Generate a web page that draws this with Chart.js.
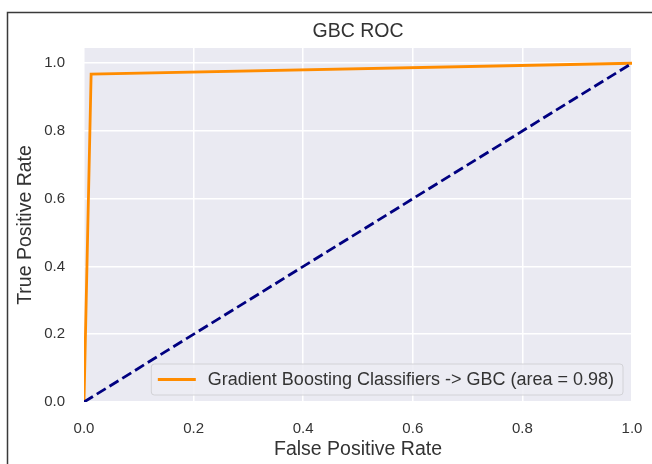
<!DOCTYPE html>
<html>
<head>
<meta charset="utf-8">
<script src="https://cdn.jsdelivr.net/npm/chart.js@4"></script>
<style>
  html, body { margin: 0; padding: 0; background: #ffffff; }
  #wrap { width: 652px; height: 464px; }
</style>
</head>
<body>
<div id="wrap"><canvas id="c" width="652" height="464"></canvas></div>
<script>
// ---- data ----
const chartTitle = "GBC ROC";
const xTitle = "False Positive Rate";
const yTitle = "True Positive Rate";
const rocLabel = "Gradient Boosting Classifiers -> GBC (area = 0.98)";
const fpr = [0.0, 0.013, 1.0];
const tpr = [0.0, 0.968, 1.0];
const diagX = [0.0, 1.0];
const diagY = [0.0, 1.0];
const tickValues = [0.0, 0.2, 0.4, 0.6, 0.8, 1.0];

const FONT = "'Liberation Sans', Arial, sans-serif";
const TXT = '#333333';

const bgPlugin = {
  id: 'bgPlugin',
  beforeDraw(chart) {
    const { ctx, chartArea: a } = chart;
    ctx.save();
    ctx.fillStyle = '#ffffff';
    ctx.fillRect(0, 0, chart.width, chart.height);
    ctx.fillStyle = '#EAEAF2';
    ctx.fillRect(a.left, a.top, a.right - a.left, a.bottom - a.top);
    // outer frame
    ctx.strokeStyle = '#3a3a3a';
    ctx.lineWidth = 1.5;
    ctx.beginPath();
    ctx.moveTo(7.5, chart.height + 2);
    ctx.lineTo(7.5, 12.5);
    ctx.lineTo(chart.width + 2, 12.5);
    ctx.stroke();
    ctx.restore();
  },
  afterDraw(chart) {
    const { ctx, chartArea: a } = chart;
    ctx.save();
    ctx.font = '19.5px ' + FONT;
    ctx.fillStyle = TXT;
    ctx.textAlign = 'center';
    ctx.textBaseline = 'middle';
    ctx.fillText(chartTitle, (a.left + a.right) / 2, 31.5);
    ctx.restore();
  }
};

const legendPlugin = {
  id: 'innerLegend',
  afterDatasetsDraw(chart) {
    const { ctx, chartArea: a } = chart;
    const ds = chart.data.datasets[0];
    ctx.save();
    ctx.font = '18px ' + FONT;
    const tw = ctx.measureText(ds.label).width;
    const padL = 6.5, lineLen = 38, gap = 12, padR = 9;
    const w = padL + lineLen + gap + tw + padR;
    const h = 31;
    const x = a.right - 9 - w;
    const y = a.bottom - 7 - h;
    const r = 3;
    ctx.beginPath();
    ctx.moveTo(x + r, y);
    ctx.lineTo(x + w - r, y);
    ctx.arcTo(x + w, y, x + w, y + r, r);
    ctx.lineTo(x + w, y + h - r);
    ctx.arcTo(x + w, y + h, x + w - r, y + h, r);
    ctx.lineTo(x + r, y + h);
    ctx.arcTo(x, y + h, x, y + h - r, r);
    ctx.lineTo(x, y + r);
    ctx.arcTo(x, y, x + r, y, r);
    ctx.closePath();
    ctx.fillStyle = 'rgba(236,236,243,0.85)';
    ctx.fill();
    ctx.strokeStyle = '#d2d2d6';
    ctx.lineWidth = 1;
    ctx.stroke();
    ctx.strokeStyle = ds.borderColor;
    ctx.lineWidth = ds.borderWidth;
    ctx.beginPath();
    ctx.moveTo(x + padL, y + h / 2);
    ctx.lineTo(x + padL + lineLen, y + h / 2);
    ctx.stroke();
    ctx.fillStyle = TXT;
    ctx.textBaseline = 'middle';
    ctx.textAlign = 'left';
    ctx.fillText(ds.label, x + padL + lineLen + gap, y + h / 2 + 0.5);
    ctx.restore();
  }
};

new Chart(document.getElementById('c'), {
  type: 'scatter',
  data: {
    datasets: [
      {
        label: rocLabel,
        data: fpr.map((v, i) => ({ x: v, y: tpr[i] })),
        showLine: true,
        borderColor: '#FF8C00',
        backgroundColor: '#FF8C00',
        borderWidth: 2.8,
        pointRadius: 0,
        tension: 0,
        order: 1,
        clip: 0
      },
      {
        label: 'chance',
        data: diagX.map((v, i) => ({ x: v, y: diagY[i] })),
        showLine: true,
        borderColor: '#000080',
        backgroundColor: '#000080',
        borderWidth: 2.8,
        borderDash: [10.5, 4.5],
        pointRadius: 0,
        tension: 0,
        order: 0,
        clip: 0
      }
    ]
  },
  options: {
    responsive: false,
    animation: false,
    devicePixelRatio: 1,
    layout: { padding: { left: 0, right: 20, top: 48, bottom: 0 } },
    plugins: {
      legend: { display: false },
      tooltip: { enabled: false },
      title: { display: false }
    },
    scales: {
      x: {
        type: 'linear',
        min: 0, max: 1.0,
        afterFit(s) { s.height = 62; s.paddingLeft = 0; s.paddingRight = 0; },
        afterBuildTicks(s) { s.ticks = tickValues.map(v => ({ value: v })); },
        grid: { color: '#ffffff', lineWidth: 1.5, drawTicks: false },
        border: { display: false },
        ticks: {
          padding: 18,
          color: TXT,
          font: { family: FONT, size: 15 },
          callback: v => Number(v).toFixed(1),
          maxRotation: 0
        },
        title: {
          display: true, text: xTitle, color: TXT,
          font: { family: FONT, size: 19.5 },
          padding: { top: 0, bottom: 2.5 }
        }
      },
      y: {
        type: 'linear',
        min: 0, max: 1.045,
        afterFit(s) { s.width = 84; s.paddingTop = 0; s.paddingBottom = 0; },
        afterBuildTicks(s) { s.ticks = tickValues.map(v => ({ value: v })); },
        grid: { color: '#ffffff', lineWidth: 1.5, drawTicks: false },
        border: { display: false },
        ticks: {
          padding: 19,
          color: TXT,
          font: { family: FONT, size: 15 },
          callback: v => Number(v).toFixed(1)
        },
        title: {
          display: true, text: yTitle, color: TXT,
          font: { family: FONT, size: 19.5 },
          padding: { top: 14, bottom: 0 }
        }
      }
    }
  },
  plugins: [bgPlugin, legendPlugin]
});
</script>
</body>
</html>
